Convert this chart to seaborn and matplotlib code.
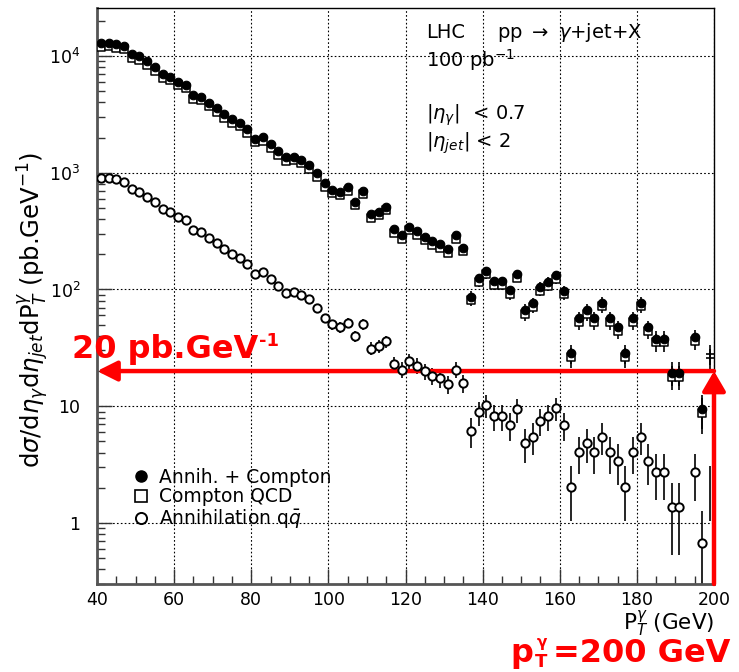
import numpy as np
import pandas as pd
import matplotlib
matplotlib.use("Agg")
import matplotlib.pyplot as plt
from matplotlib.lines import Line2D
from matplotlib.ticker import FixedLocator, MultipleLocator, FuncFormatter, LogLocator, NullFormatter
import seaborn as sns

# Photon transverse momentum bin centres (GeV), 2 GeV wide bins
pt_bins = list(range(41, 200, 2))

# d sigma / d eta_gamma d eta_jet d pT  (pb/GeV), 100 pb^-1
total = [12800, 13000, 12700, 12200, 10400, 10000, 9000, 8000, 7000, 6650,
         6030, 5680, 4630, 4480, 3980, 3560, 3160, 2870, 2690, 2350,
         1960, 2010, 1760, 1540, 1350, 1370, 1290, 1165, 990, 811,
         715, 688, 750, 564, 702, 443, 463, 512, 327, 292,
         345, 316, 283, 260, 245, 221, 292, 228, 87, 125,
         145, 118, 118, 98, 135, 67, 76.5, 105, 116, 133,
         97.5, 28.3, 56.5, 66.5, 56.5, 77, 56.5, 47.3, 28.3, 56.5,
         77, 47.3, 38, 38, 19.3, 19.3, np.nan, 38.9, 9.4, 28]

compton = [11900, 12100, 11800, 11360, 9680, 9310, 8380, 7440, 6510, 6190,
           5610, 5290, 4310, 4170, 3700, 3310, 2940, 2670, 2500, 2190,
           1825, 1870, 1640, 1430, 1257, 1274, 1200, 1082, 921, 755,
           665, 641, 698, 524, 652, 412, 430, 476, 304, 271,
           321, 294, 263, 242, 228, 206, 271, 212, 81, 116,
           135, 110, 110, 91, 126, 62, 71, 97.5, 108, 123,
           90.6, 26.3, 52.4, 61.7, 52.4, 71.5, 52.4, 43.9, 26.3, 52.4,
           71.5, 43.9, 35.3, 35.3, 17.9, 17.9, np.nan, 36.2, 8.7, 26]

annihilation = [900, 906, 883, 837, 725, 688, 622, 557, 489, 463,
                420, 393, 323, 312, 277, 248, 222, 200, 185, 164,
                135, 140, 123, 108, 93, 95.6, 89.5, 82.8, 69, 56.5,
                50.2, 47.4, 51.9, 39.9, 50.4, 31.2, 32.6, 36, 23, 20.6,
                24.3, 22.3, 19.9, 18.3, 17.3, 15.4, 20.6, 15.8, 6.15, 8.85,
                10.2, 8.2, 8.2, 6.9, 9.4, 4.8, 5.5, 7.45, 8.2, 9.6,
                6.9, 2.04, 4.07, 4.8, 4.07, 5.5, 4.07, 3.4, 2.04, 4.07,
                5.5, 3.4, 2.74, 2.74, 1.36, 1.36, np.nan, 2.71, 0.68, 2.04]

# effective number of generated events per (pb/GeV) unit, sets the Poisson errors
events_per_unit = {"total": 1.0, "compton": 1.0, "annihilation": 2.0}

x_ticks = [40, 60, 80, 100, 120, 140, 160, 180, 200]
y_ticks = [1, 10, 100, 1000, 10000]

df = pd.DataFrame({"pt": pt_bins, "total": total, "compton": compton,
                   "annihilation": annihilation})
for key, n in events_per_unit.items():
    df[key + "_err"] = np.sqrt(df[key] / n)

sns.set_theme(style="white")
plt.rcParams["font.family"] = ["DejaVu Sans"]
plt.rcParams["mathtext.fontset"] = "dejavusans"
for k in ["text.color", "axes.labelcolor", "xtick.color", "ytick.color"]:
    plt.rcParams[k] = "black"

fig = plt.figure(figsize=(7.39, 6.72), dpi=100)
ax = fig.add_axes([97 / 739, 1 - 584 / 672, 617 / 739, 576.5 / 672])
ax.set_yscale("log")
ax.set_xlim(40, 200)
ax.set_ylim(0.3, 26000)

# last bin sits on the frame edge: only its error bar is drawn
inner = df[df["pt"] < 199]

for key in ["compton", "total", "annihilation"]:
    ax.errorbar(df["pt"], df[key], yerr=df[key + "_err"], fmt="none",
                ecolor="black", elinewidth=1.2, capsize=0, zorder=2)
ax.plot(df["pt"].iloc[-1:], df["total"].iloc[-1:], marker="_", ms=6,
        mew=1.2, color="black", ls="none", zorder=3)
ax.plot(df["pt"].iloc[-1:], df["compton"].iloc[-1:], marker="_", ms=6,
        mew=1.2, color="black", ls="none", zorder=3)

sns.scatterplot(data=inner, x="pt", y="compton", marker="s", s=36,
                facecolor="white", edgecolor="black", linewidth=1.1,
                ax=ax, zorder=3)
sns.scatterplot(data=inner, x="pt", y="total", marker="o", s=38,
                color="black", edgecolor="black", linewidth=0.8,
                ax=ax, zorder=4)
sns.scatterplot(data=inner, x="pt", y="annihilation", marker="o", s=36,
                facecolor="white", edgecolor="black", linewidth=1.4,
                ax=ax, zorder=4)

# axes, ticks and grid
ax.xaxis.set_major_locator(FixedLocator(x_ticks))
ax.xaxis.set_minor_locator(MultipleLocator(5))
ax.yaxis.set_major_locator(FixedLocator(y_ticks))
ax.yaxis.set_minor_locator(LogLocator(base=10, subs=np.arange(2, 10)))
ax.yaxis.set_minor_formatter(NullFormatter())


def ylab(v, _):
    if v == 1:
        return "1"
    if v == 10:
        return "10"
    return r"$10^{%d}$" % int(round(np.log10(v)))


ax.yaxis.set_major_formatter(FuncFormatter(ylab))
ax.tick_params(which="both", direction="in", top=False, right=False,
               left=True, bottom=True, color="#333333")
ax.tick_params(which="major", length=11, width=1.0, labelsize=12.5)
ax.tick_params(which="minor", length=6, width=1.0)
ax.tick_params(axis="y", which="major", pad=12)
ax.tick_params(axis="x", which="major", pad=5)

ax.grid(True, which="major", color="black", ls=(0, (1.5, 2)), lw=0.8)
for side in ["top", "right"]:
    ax.spines[side].set_color("black")
    ax.spines[side].set_linewidth(1.0)
for side in ["left", "bottom"]:
    ax.spines[side].set_color("#555555")
    ax.spines[side].set_linewidth(2.0)

ax.set_xlabel(r"P$^{\gamma}_{T}$ (GeV)", fontsize=15.5, ha="right")
ax.xaxis.set_label_coords(1.0, -0.042)
ax.set_ylabel(r"d$\sigma$/d$\eta_{\gamma}$d$\eta_{jet}$dP$^{\gamma}_{T}$ (pb.GeV$^{-1}$)",
              fontsize=17.5)
ax.yaxis.set_label_coords(-0.075, 0.475)

# process / selection labels
tkw = dict(transform=fig.transFigure, fontsize=14, va="baseline")
fig.text(426 / 739, 1 - 38 / 672, "LHC", **tkw)
fig.text(497 / 739, 1 - 38 / 672, r"pp $\rightarrow$ $\gamma$+jet+X", **tkw)
fig.text(426 / 739, 1 - 67 / 672, r"100 pb$^{-1}$", **tkw)
fig.text(426 / 739, 1 - 120 / 672, r"|$\eta_{\gamma}$|  < 0.7", **tkw)
fig.text(426 / 739, 1 - 148 / 672, r"|$\eta_{jet}$| < 2", **tkw)

handles = [
    Line2D([], [], marker="o", ls="none", color="black", ms=8),
    Line2D([], [], marker="s", ls="none", mfc="white", mec="black", ms=8, mew=1.2),
    Line2D([], [], marker="o", ls="none", mfc="white", mec="black", ms=8, mew=1.4),
]
labels = ["Annih. + Compton", "Compton QCD", r"Annihilation q$\bar{q}$"]
ax.legend(handles, labels, loc="upper left", bbox_to_anchor=(0.044, 0.215),
          frameon=False, fontsize=13.5, handletextpad=0.45, labelspacing=0.05,
          handlelength=1.0, borderaxespad=0)

# highlighted reading at pT = 200 GeV
red = "#ff0000"
ax.annotate("", xy=(40, 20), xytext=(200, 20), annotation_clip=False,
            arrowprops=dict(arrowstyle="-|>,head_length=1.2,head_width=0.6",
                            mutation_scale=10, color=red, lw=3.2,
                            shrinkA=0, shrinkB=0))
ax.annotate("", xy=(200, 20), xytext=(200, 0.3), annotation_clip=False,
            arrowprops=dict(arrowstyle="-|>,head_length=1.2,head_width=0.7",
                            mutation_scale=10, color=red, lw=3.2,
                            shrinkA=0, shrinkB=0))
rkw = dict(color=red, fontweight="bold", va="baseline")
fig.text(72 / 739, 1 - 358 / 672, "20 pb.GeV", fontsize=23, **rkw)
fig.text(259 / 739, 1 - 346 / 672, "-1", fontsize=13, **rkw)
fig.text(510 / 739, 1 - 662 / 672, "p", fontsize=23, **rkw)
fig.text(535 / 739, 1 - 667 / 672, "T", fontsize=13, **rkw)
fig.text(537 / 739, 1 - 647 / 672, "\u03b3", fontsize=11, **rkw)
fig.text(553 / 739, 1 - 662 / 672, "=200 GeV", fontsize=23, **rkw)

fig.savefig("out.png", dpi=100)
